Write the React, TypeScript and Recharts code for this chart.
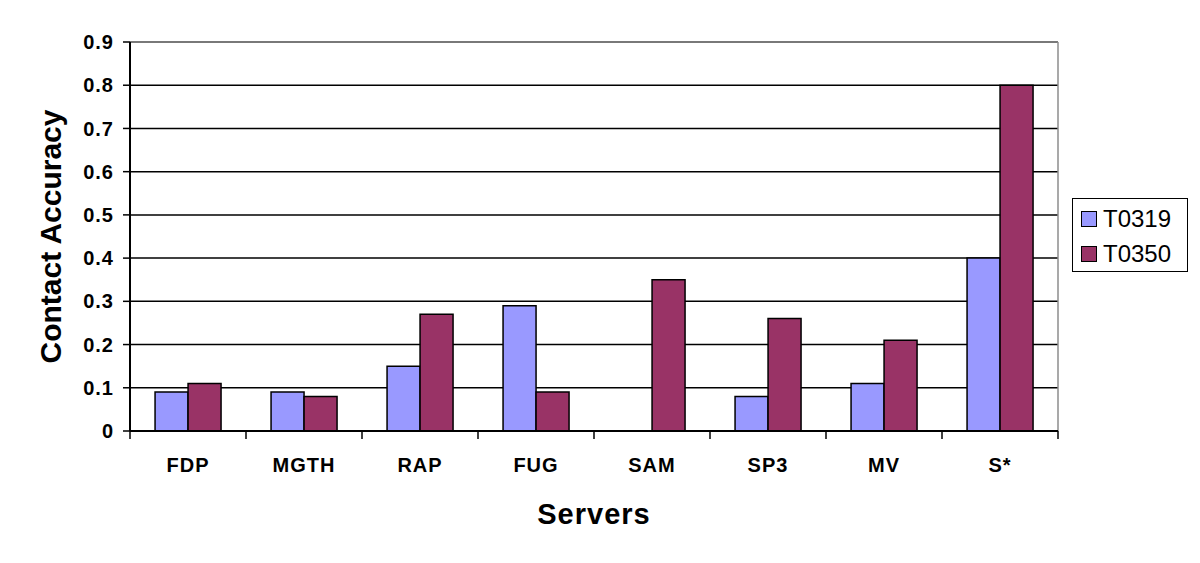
import { BarChart, Bar, XAxis, YAxis, CartesianGrid, Legend, ReferenceLine, Label } from 'recharts';

const servers = ['FDP', 'MGTH', 'RAP', 'FUG', 'SAM', 'SP3', 'MV', 'S*'];
const t0319 = [0.09, 0.09, 0.15, 0.29, 0, 0.08, 0.11, 0.4];
const t0350 = [0.11, 0.08, 0.27, 0.09, 0.35, 0.26, 0.21, 0.8];
const yTicks = [0, 0.1, 0.2, 0.3, 0.4, 0.5, 0.6, 0.7, 0.8, 0.9];

const COLORS = { T0319: '#9999ff', T0350: '#993366' };
const FONT = '"Liberation Sans", Arial, sans-serif';

const CHART_W = 1200;
const MARGIN = { top: 42, right: 26, bottom: 32, left: 0 };
const Y_AXIS_W = 130;
const LEGEND_W = 116;

const data = servers.map((name, i) => ({ name, T0319: t0319[i], T0350: t0350[i] }));

const tickStyle = { fill: '#000', fontFamily: FONT, fontSize: 20, fontWeight: 'bold', letterSpacing: 1 };

// category label plus the Excel-style tick marks sitting between categories
function CategoryTick(props: any) {
  const { x, y, payload, index } = props;
  const plotW = CHART_W - MARGIN.left - MARGIN.right - Y_AXIS_W - LEGEND_W;
  const band = plotW / servers.length;
  const left = x - band / 2;
  return (
    <g>
      <line x1={left} x2={left} y1={y} y2={y + 8} stroke="#000" strokeWidth={1.5} />
      {index === servers.length - 1 && (
        <line x1={left + band} x2={left + band} y1={y} y2={y + 8} stroke="#000" strokeWidth={1.5} />
      )}
      <text x={x} y={y + 26} dy="0.75em" textAnchor="middle" style={tickStyle as any}>
        {payload.value}
      </text>
    </g>
  );
}

function LegendBox() {
  return (
    <div
      style={{
        border: '1.5px solid #000',
        background: '#fff',
        boxSizing: 'border-box',
        width: LEGEND_W,
        height: 74,
        padding: '2px 0 0 8px',
        fontFamily: FONT,
        fontSize: 24,
        lineHeight: '35px',
      }}
    >
      {(['T0319', 'T0350'] as const).map((k) => (
        <div key={k} style={{ display: 'flex', alignItems: 'center' }}>
          <span
            style={{
              display: 'inline-block',
              width: 14,
              height: 14,
              background: COLORS[k],
              border: '1.5px solid #000',
              marginRight: 6,
            }}
          />
          <span>{k}</span>
        </div>
      ))}
    </div>
  );
}

export default function App() {
  return (
    <div style={{ position: 'absolute', left: 0, top: 0, background: '#fff' }}>
      <BarChart
        width={CHART_W}
        height={563}
        data={data}
        margin={MARGIN}
        barCategoryGap="21.6%"
        barGap={0}
      >
        <CartesianGrid vertical={false} stroke="#000" strokeWidth={1.5} />
        <CartesianGrid
          horizontal={false}
          stroke="#8c8c8c"
          strokeWidth={1.5}
          verticalCoordinatesGenerator={({ offset }: any) => [offset.left + offset.width]}
        />
        <XAxis
          dataKey="name"
          height={100}
          tickLine={false}
          tickSize={0}
          tickMargin={0}
          interval={0}
          axisLine={{ stroke: '#000', strokeWidth: 2 }}
          tick={<CategoryTick />}
        >
          <Label
            value="Servers"
            position="center"
            dy={33}
            style={{ fill: '#000', fontFamily: FONT, fontSize: 29, fontWeight: 'bold', letterSpacing: 1 }}
          />
        </XAxis>
        <YAxis
          width={Y_AXIS_W}
          domain={[0, 0.9]}
          ticks={yTicks}
          interval={0}
          tickSize={7}
          tickMargin={9}
          axisLine={{ stroke: '#000', strokeWidth: 2 }}
          tickLine={{ stroke: '#000', strokeWidth: 1.5 }}
          tick={tickStyle}
        >
          <Label
            value="Contact Accuracy"
            position="center"
            angle={-90}
            dx={-15}
            style={{ fill: '#000', fontFamily: FONT, fontSize: 30, fontWeight: 'bold', textAnchor: 'middle' }}
          />
        </YAxis>
        <ReferenceLine y={0.9} stroke="#8c8c8c" strokeWidth={1.5} />
        <Legend
          layout="horizontal"
          verticalAlign="middle"
          align="right"
          content={() => <LegendBox />}
          wrapperStyle={{ position: 'absolute', left: 1072, top: 198, width: LEGEND_W, height: 74 }}
        />
        <Bar dataKey="T0319" fill={COLORS.T0319} stroke="#000" strokeWidth={1.5} isAnimationActive={false} />
        <Bar dataKey="T0350" fill={COLORS.T0350} stroke="#000" strokeWidth={1.5} isAnimationActive={false} />
      </BarChart>
    </div>
  );
}
